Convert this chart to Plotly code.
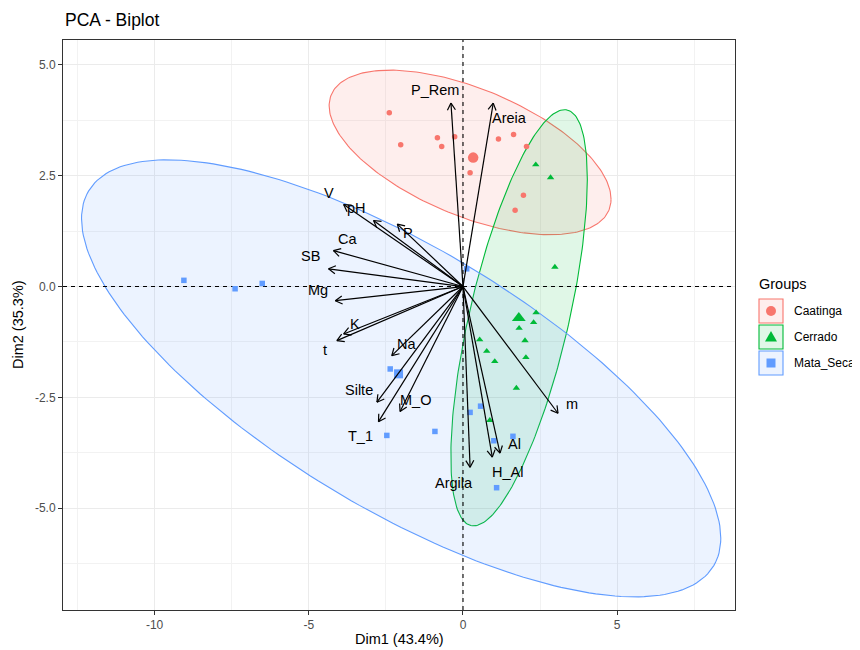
import numpy as np
import plotly.graph_objects as go

# ---------------- data ----------------
groups = ["Caatinga", "Cerrado", "Mata_Seca"]
colors = {"Caatinga": "#F8766D", "Cerrado": "#00BA38", "Mata_Seca": "#619CFF"}

caatinga_x = [-2.39, -2.02, -0.83, -0.69, -0.27, 0.23, 1.15, 1.64, 2.06, 1.96, 1.69]
caatinga_y = [3.92, 3.20, 3.36, 3.16, 3.38, 2.57, 3.33, 3.43, 3.16, 2.06, 1.72]
cerrado_x = [2.36, 2.84, 2.98, 2.37, 2.29, 1.82, 0.54, 2.01, 0.77, 2.04, 1.03, 1.73, 0.87]
cerrado_y = [2.75, 2.46, 0.44, -0.59, -0.81, -0.94, -1.20, -1.22, -1.46, -1.60, -1.69, -2.29, -3.02]
mata_x = [-9.05, -7.39, -6.51, -2.36, -2.47, -0.91, 0.23, 0.57, 1.00, 1.62, 1.09, 0.12]
mata_y = [0.14, -0.05, 0.07, -1.86, -3.36, -3.27, -2.84, -2.70, -3.48, -3.38, -4.54, 0.40]

centroid_x = [0.33, 1.81, -2.09]
centroid_y = [2.91, -0.71, -1.97]

var_names = ["P_Rem", "Areia", "V", "pH", "P", "Ca", "SB", "Mg", "K", "t", "Na",
             "Silte", "M_O", "T_1", "Argila", "H_Al", "Al", "m"]
var_x = [-0.39, 0.98, -3.87, -2.90, -2.13, -4.20, -4.36, -4.14, -3.87, -4.09, -2.31,
         -2.79, -2.04, -2.74, 0.23, 0.95, 1.20, 3.08]
var_y = [4.14, 4.14, 1.85, 1.49, 1.41, 0.81, 0.40, -0.32, -1.07, -1.22, -1.56,
         -2.61, -2.82, -3.05, -4.08, -3.85, -3.76, -2.86]
label_x = [-0.91, 1.50, -4.36, -3.44, -1.77, -3.76, -4.93, -4.71, -3.50, -4.47, -1.82,
           -3.36, -1.55, -3.31, -0.29, 1.43, 1.66, 3.54]
label_y = [4.44, 3.81, 2.11, 1.77, 1.20, 1.08, 0.70, -0.07, -0.84, -1.44, -1.29,
           -2.33, -2.56, -3.38, -4.44, -4.19, -3.55, -2.66]

x_ticks = [-10, -5, 0, 5]
x_ticktext = ["-10", "-5", "0", "5"]
y_ticks = [-5, -2.5, 0, 2.5, 5]
y_ticktext = ["-5.0", "-2.5", "0.0", "2.5", "5.0"]

# ---------------- layout geometry ----------------
# the page body adds an 8px offset; positions below are in reference-window pixels
OFF = 8
W, H = 860 - OFF, 650 - OFF
PL, PR, PT, PB = 63, 735, 40, 610
XR = [-12.97, 8.82]
YR = [-7.30, 5.564]
FONT = "Arial, Liberation Sans, sans-serif"

def fx(p):
    return (p - OFF) / W

def fy(p):
    return 1 - (p - OFF) / H

sx = (PR - PL) / (XR[1] - XR[0])
sy = (PB - PT) / (YR[1] - YR[0])

def ellipse(xs, ys, level=0.95, n=241):
    pts = np.column_stack([xs, ys])
    c = pts.mean(axis=0)
    cov = np.cov(pts.T)
    d2 = len(xs) - 1
    q = d2 / 2 * ((1 - level) ** (-2 / d2) - 1)  # F(2, d2) quantile
    r = np.sqrt(2 * q)
    R = np.linalg.cholesky(cov).T
    t = np.linspace(0, 2 * np.pi, n)
    u = np.column_stack([np.cos(t), np.sin(t)])
    e = c + r * (u @ R)
    return e[:, 0], e[:, 1]

def rgba(hexc, a):
    h = hexc.lstrip("#")
    return "rgba(%d,%d,%d,%s)" % (int(h[0:2], 16), int(h[2:4], 16), int(h[4:6], 16), a)

data = {
    "Caatinga": (caatinga_x, caatinga_y, "circle", 5.5),
    "Cerrado": (cerrado_x, cerrado_y, "triangle-up", 6.5),
    "Mata_Seca": (mata_x, mata_y, "square", 5.5),
}
big = {"Caatinga": ("circle", 10.5), "Cerrado": ("triangle-up", 12), "Mata_Seca": ("square", 9)}

fig = go.Figure()

# ellipses
for g in groups:
    xs, ys, _, _ = data[g]
    ex, ey = ellipse(xs, ys)
    fig.add_trace(go.Scatter(x=ex, y=ey, mode="lines", fill="toself",
                             fillcolor=rgba(colors[g], 0.12),
                             line=dict(color=colors[g], width=1.1),
                             showlegend=False, hoverinfo="skip"))

# reference dashed lines
fig.add_trace(go.Scatter(x=[0, 0], y=YR, mode="lines",
                         line=dict(color="black", width=1.1, dash="4px,4px"),
                         showlegend=False, hoverinfo="skip"))
fig.add_trace(go.Scatter(x=XR, y=[0, 0], mode="lines",
                         line=dict(color="black", width=1.1, dash="4px,4px"),
                         showlegend=False, hoverinfo="skip"))

# points
for gi, g in enumerate(groups):
    xs, ys, sym, sz = data[g]
    fig.add_trace(go.Scatter(x=xs, y=ys, mode="markers",
                             marker=dict(symbol=sym, size=sz, color=colors[g], line=dict(width=0)),
                             showlegend=False))
    bs, bsz = big[g]
    fig.add_trace(go.Scatter(x=[centroid_x[gi]], y=[centroid_y[gi]], mode="markers",
                             marker=dict(symbol=bs, size=bsz, color=colors[g], line=dict(width=0)),
                             showlegend=False))

# variable arrows
ax_, ay_ = [], []
head = 8.0
ang = np.deg2rad(30)
for tx, ty in zip(var_x, var_y):
    ax_ += [0, tx, None]
    ay_ += [0, ty, None]
    dxp, dyp = tx * sx, ty * sy
    L = np.hypot(dxp, dyp)
    ux, uy = dxp / L, dyp / L
    for s in (1, -1):
        ca, sa = np.cos(s * ang), np.sin(s * ang)
        rx = ux * ca - uy * sa
        ry = ux * sa + uy * ca
        hx = tx - head * rx / sx
        hy = ty - head * ry / sy
        ax_ += [hx, tx, None]
        ay_ += [hy, ty, None]
fig.add_trace(go.Scatter(x=ax_, y=ay_, mode="lines",
                         line=dict(color="black", width=1.2),
                         showlegend=False, hoverinfo="skip"))

annotations = []
for name, lx, ly in zip(var_names, label_x, label_y):
    annotations.append(dict(x=lx, y=ly, xref="x", yref="y", text=name, showarrow=False,
                            font=dict(family=FONT, size=14.5, color="black"),
                            xanchor="center", yanchor="middle"))

# titles
annotations.append(dict(x=fx(PL), y=fy(20), xref="paper", yref="paper", text="PCA - Biplot",
                        showarrow=False, xanchor="left", yanchor="middle",
                        font=dict(family=FONT, size=17.5, color="black")))
annotations.append(dict(x=fx((PL + PR) / 2), y=fy(639), xref="paper", yref="paper",
                        text="Dim1 (43.4%)", showarrow=False, xanchor="center", yanchor="middle",
                        font=dict(family=FONT, size=14.5, color="black")))
annotations.append(dict(x=fx(18), y=fy((PT + PB) / 2), xref="paper", yref="paper",
                        text="Dim2 (35.3%)", showarrow=False, xanchor="center", yanchor="middle",
                        textangle=-90, font=dict(family=FONT, size=14.5, color="black")))

# legend (drawn manually)
shapes = []
annotations.append(dict(x=fx(757), y=fy(284), xref="paper", yref="paper", text="Groups",
                        showarrow=False, xanchor="left", yanchor="middle",
                        font=dict(family=FONT, size=14.5, color="black")))
key_top = [299, 325, 351]
for i, g in enumerate(groups):
    y0 = key_top[i]
    y1 = y0 + 24
    cx, cy = 771, (y0 + y1) / 2
    shapes.append(dict(type="rect", xref="paper", yref="paper",
                       x0=fx(759), x1=fx(783), y0=fy(y1), y1=fy(y0),
                       line=dict(color=colors[g], width=1.1),
                       fillcolor=rgba(colors[g], 0.12), layer="above"))
    if g == "Caatinga":
        r = 5
        shapes.append(dict(type="circle", xref="paper", yref="paper",
                           x0=fx(cx - r), x1=fx(cx + r), y0=fy(cy + r), y1=fy(cy - r),
                           line=dict(width=0), fillcolor=colors[g], layer="above"))
    elif g == "Cerrado":
        path = "M %f %f L %f %f L %f %f Z" % (fx(cx - 6), fy(cy + 4.5), fx(cx + 6), fy(cy + 4.5),
                                              fx(cx), fy(cy - 6))
        shapes.append(dict(type="path", xref="paper", yref="paper", path=path,
                           line=dict(width=0), fillcolor=colors[g], layer="above"))
    else:
        r = 4.5
        shapes.append(dict(type="rect", xref="paper", yref="paper",
                           x0=fx(cx - r), x1=fx(cx + r), y0=fy(cy + r), y1=fy(cy - r),
                           line=dict(width=0), fillcolor=colors[g], layer="above"))
    annotations.append(dict(x=fx(792), y=fy(cy), xref="paper", yref="paper", text=g,
                            showarrow=False, xanchor="left", yanchor="middle",
                            font=dict(family=FONT, size=12, color="black")))

axis_common = dict(showline=True, linecolor="#333333", linewidth=1, mirror=True,
                   ticks="outside", ticklen=4, tickcolor="#333333", tickwidth=1,
                   showgrid=True, gridcolor="#EBEBEB", gridwidth=1.1, zeroline=False,
                   tickfont=dict(family=FONT, size=12, color="#4D4D4D"))

fig.update_layout(
    width=W, height=H,
    margin=dict(l=0, r=0, t=0, b=0),
    paper_bgcolor="white", plot_bgcolor="white",
    showlegend=False,
    xaxis=dict(domain=[fx(PL), fx(PR)], range=XR, tickvals=x_ticks, ticktext=x_ticktext,
               minor=dict(dtick=2.5, tick0=0, showgrid=True, gridcolor="#F2F2F2", gridwidth=0.6),
               **axis_common),
    yaxis=dict(domain=[fy(PB), fy(PT)], range=YR, tickvals=y_ticks, ticktext=y_ticktext,
               minor=dict(dtick=1.25, tick0=0, showgrid=True, gridcolor="#F2F2F2", gridwidth=0.6),
               **axis_common),
    annotations=annotations,
    shapes=shapes,
)

fig.write_html("out.html")
